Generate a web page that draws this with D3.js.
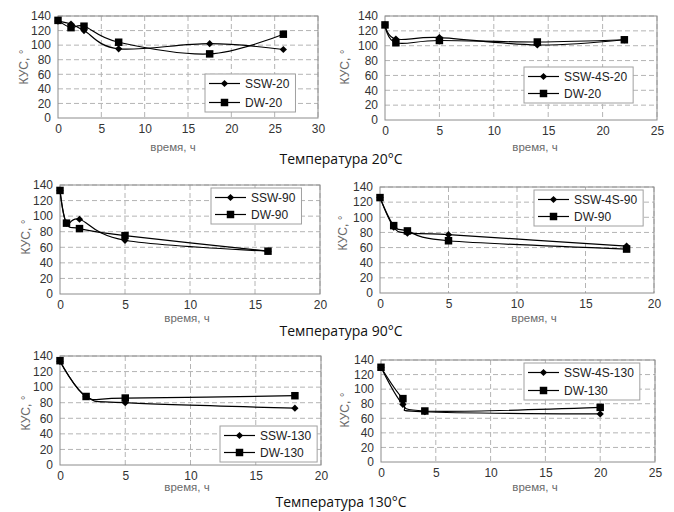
<!DOCTYPE html>
<html>
<head>
<meta charset="utf-8">
<script src="https://cdn.jsdelivr.net/npm/d3@7"></script>
<style>
  body { margin: 0; background: #fff; }
  svg { display: block; }
</style>
</head>
<body>
<div id="chart"></div>
<script>
// time points (h) and contact angle values (°)
var t20a = [0, 1.5, 3, 7, 17.5, 26];
var ssw20 = [133, 129, 120, 95, 102, 94];
var dw20a = [134, 124, 126, 104, 88, 115];

var t20b = [0, 1, 5, 14, 22];
var ssw4s20 = [128, 109, 111, 101, 108];
var dw20b = [128, 104, 107, 105, 108];

var t90a = [0, 0.5, 1.5, 5, 16];
var ssw90 = [133, 91, 96, 69, 55];
var dw90a = [133, 91, 84, 75, 55];

var t90b = [0, 1, 2, 5, 18];
var ssw4s90 = [126, 87, 79, 77, 62];
var dw90b = [126, 89, 82, 69, 58];

var t130a = [0, 2, 5, 18];
var ssw130 = [133, 88, 80, 73];
var dw130a = [134, 88, 86, 89];

var t130b = [0, 2, 4, 20];
var ssw4s130 = [130, 79, 69, 66];
var dw130b = [130, 87, 70, 75];

var yTicks = [0, 20, 40, 60, 80, 100, 120, 140];
var titles = ["Температура 20°C", "Температура 90°C", "Температура 130°C"];

var width = 674, height = 512;

var svg = d3.select("#chart").append("svg")
    .attr("width", width)
    .attr("height", height);

var panels = [
    { l: 58, r: 318, t: 16, b: 118, xMax: 30, xlx: 173, xly: 151, ylx: 24, yly: 67,
      lg: { x: 205, y: 74, gap: 19 },
      series: [{ name: "SSW-20", x: t20a, y: ssw20, m: "d" }, { name: "DW-20", x: t20a, y: dw20a, m: "s" }] },
    { l: 385, r: 657, t: 16, b: 120, xMax: 25, xlx: 535, xly: 151, ylx: 345, yly: 67,
      lg: { x: 524, y: 67, gap: 17 },
      series: [{ name: "SSW-4S-20", x: t20b, y: ssw4s20, m: "d" }, { name: "DW-20", x: t20b, y: dw20b, m: "s" }] },
    { l: 60, r: 320, t: 185, b: 294, xMax: 20, xlx: 187, xly: 322, ylx: 26, yly: 237,
      lg: { x: 211, y: 188, gap: 17 },
      series: [{ name: "SSW-90", x: t90a, y: ssw90, m: "d" }, { name: "DW-90", x: t90a, y: dw90a, m: "s" }] },
    { l: 380, r: 654, t: 187, b: 293, xMax: 20, xlx: 534, xly: 322, ylx: 343, yly: 233,
      lg: { x: 534, y: 190, gap: 17 },
      series: [{ name: "SSW-4S-90", x: t90b, y: ssw4s90, m: "d" }, { name: "DW-90", x: t90b, y: dw90b, m: "s" }] },
    { l: 60, r: 321, t: 356, b: 465, xMax: 20, xlx: 187, xly: 491, ylx: 26, yly: 413,
      lg: { x: 220, y: 426, gap: 17 },
      series: [{ name: "SSW-130", x: t130a, y: ssw130, m: "d" }, { name: "DW-130", x: t130a, y: dw130a, m: "s" }] },
    { l: 381, r: 655, t: 360, b: 462, xMax: 25, xlx: 535, xly: 491, ylx: 345, yly: 410,
      lg: { x: 524, y: 363, gap: 18 },
      series: [{ name: "SSW-4S-130", x: t130b, y: ssw4s130, m: "d" }, { name: "DW-130", x: t130b, y: dw130b, m: "s" }] }
];

// Excel-like markers: diamond is a square turned by 45°
var square = d3.symbol().type(d3.symbolSquare).size(56);
var diamond = d3.symbol().type(d3.symbolSquare).size(26);

function marker(g, type, x, y) {
    g.append("path")
        .attr("d", type === "d" ? diamond() : square())
        .attr("transform", "translate(" + x + "," + y + ")" + (type === "d" ? " rotate(45)" : ""))
        .attr("fill", "#000");
}

panels.forEach(function (p) {
    var x = d3.scaleLinear().domain([0, p.xMax]).range([p.l, p.r]);
    var y = d3.scaleLinear().domain([0, 140]).range([p.b, p.t]);
    var g = svg.append("g");

    // grid
    g.selectAll(".hg").data(yTicks.slice(1)).enter().append("line")
        .attr("x1", p.l).attr("x2", p.r)
        .attr("y1", d => y(d)).attr("y2", d => y(d))
        .attr("stroke", "#b4b4b4").attr("stroke-dasharray", "5,3");
    g.selectAll(".vg").data(x.ticks(p.xMax / 5).slice(1)).enter().append("line")
        .attr("x1", d => x(d)).attr("x2", d => x(d))
        .attr("y1", p.t).attr("y2", p.b)
        .attr("stroke", "#b4b4b4").attr("stroke-dasharray", "5,3");

    // frame
    g.append("rect")
        .attr("x", p.l).attr("y", p.t)
        .attr("width", p.r - p.l).attr("height", p.b - p.t)
        .attr("fill", "none").attr("stroke", "#8c8c8c");

    // axes
    var yAxis = d3.axisLeft(y).tickValues(yTicks).tickSize(0).tickPadding(7);
    var xAxis = d3.axisBottom(x).ticks(p.xMax / 5).tickSize(0).tickPadding(6);
    var ya = g.append("g").attr("transform", "translate(" + p.l + ",0)").call(yAxis);
    var xa = g.append("g").attr("transform", "translate(0," + p.b + ")").call(xAxis);
    [ya, xa].forEach(function (a) {
        a.select(".domain").remove();
        a.selectAll("text")
            .attr("font-family", "Liberation Sans, Arial, sans-serif")
            .attr("font-size", 12)
            .attr("fill", "#333");
    });

    g.append("text")
        .attr("x", p.xlx).attr("y", p.xly)
        .attr("text-anchor", "middle")
        .attr("font-family", "Liberation Sans, Arial, sans-serif")
        .attr("font-size", 11.5).attr("fill", "#6a6a6a")
        .text("время, ч");
    g.append("text")
        .attr("transform", "translate(" + p.ylx + "," + p.yly + ") rotate(-90)")
        .attr("text-anchor", "middle")
        .attr("dy", "0.35em")
        .attr("font-family", "Liberation Sans, Arial, sans-serif")
        .attr("font-size", 12).attr("fill", "#6a6a6a")
        .text("КУС, °");

    // series
    var line = d3.line()
        .x(d => x(d[0])).y(d => y(d[1]))
        .curve(d3.curveCardinal.tension(0));
    p.series.forEach(function (s) {
        var pts = s.x.map((v, i) => [v, s.y[i]]);
        g.append("path")
            .attr("d", line(pts))
            .attr("fill", "none").attr("stroke", "#000").attr("stroke-width", 1.2);
        pts.forEach(d => marker(g, s.m, x(d[0]), y(d[1])));
    });

    // legend
    var lg = g.append("g");
    var box = lg.append("rect")
        .attr("x", p.lg.x).attr("y", p.lg.y)
        .attr("fill", "#fff").attr("stroke", "#a0a0a0");
    var maxW = 0;
    p.series.forEach(function (s, i) {
        var yy = p.lg.y + 9.5 + i * p.lg.gap;
        lg.append("line")
            .attr("x1", p.lg.x + 4).attr("x2", p.lg.x + 35)
            .attr("y1", yy).attr("y2", yy)
            .attr("stroke", "#000").attr("stroke-width", 1.2);
        marker(lg, s.m, p.lg.x + 19.5, yy);
        var tx = lg.append("text")
            .attr("x", p.lg.x + 40).attr("y", yy).attr("dy", "0.35em")
            .attr("font-family", "Liberation Sans, Arial, sans-serif")
            .attr("font-size", 12).attr("fill", "#222")
            .text(s.name);
        maxW = Math.max(maxW, tx.node().getComputedTextLength());
    });
    box.attr("width", 40 + maxW + 6)
        .attr("height", 19 + p.lg.gap);
});

// row titles
var titleY = [164, 336, 507];
titles.forEach(function (t, i) {
    svg.append("text")
        .attr("x", 341).attr("y", titleY[i])
        .attr("text-anchor", "middle")
        .attr("font-family", "Open Sans, Noto Sans, sans-serif")
        .attr("font-size", 14)
        .attr("fill", "#111")
        .text(t);
});
</script>
</body>
</html>
